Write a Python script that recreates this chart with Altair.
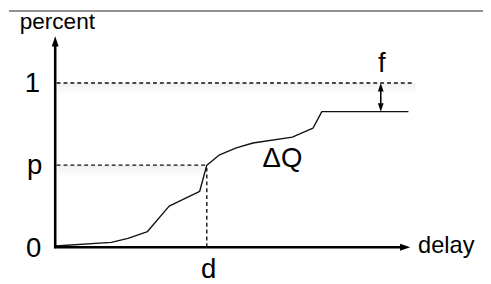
import altair as alt
import pandas as pd

# CDF-like curve (delay in arbitrary units 0..100, percent 0..1)
curve_delay = [0, 15.8, 20.5, 26.0, 32.1, 40.7, 42.7, 46.3, 51.0, 55.7, 66.8, 72.6, 75.1, 99.5]
curve_percent = [0.008, 0.03, 0.054, 0.096, 0.251, 0.341, 0.50, 0.563, 0.605, 0.635, 0.671, 0.725, 0.826, 0.826]

d_value = 42.7
p_value = 0.5
plateau = 0.826
f_delay = 91.7

label_text = ["percent", "1", "p", "0", "d", "f", "ΔQ"]
label_x = [0.6, -6.4, -5.8, -6.1, 43.2, 92.0, 64.0]
label_y = [1.33, 0.946, 0.449, -0.06, -0.186, 1.066, 0.49]
label_size = [23, 28, 28, 28, 28, 28, 28]

xs = alt.Scale(domain=[0, 100], range=[48, 409], zero=False, nice=False)
ys = alt.Scale(domain=[0, 1], range=[241, 74], zero=False, nice=False)


def X(f="x"):
    return alt.X(f, type="quantitative", scale=xs, axis=None)


def Y(f="y"):
    return alt.Y(f, type="quantitative", scale=ys, axis=None)


curve_df = pd.DataFrame({"x": curve_delay, "y": curve_percent})

# horizontal dashed guides
hdash_df = pd.DataFrame({"x": [0.4, 0.4], "x2": [101.0, d_value], "y": [1.0, p_value]})
vdash_df = pd.DataFrame({"x": [d_value], "y": [0.0], "y2": [p_value]})
shadow_df = pd.DataFrame({"x": [0.6, 0.6], "x2": [101.5, d_value],
                          "y": [1.0, p_value], "y2": [1.0 - 0.07, p_value - 0.07]})

axis_y_df = pd.DataFrame({"x": [0.0], "y": [-0.006], "y2": [1.24]})
axis_x_df = pd.DataFrame({"x": [-0.3], "x2": [97.5], "y": [0.0]})

up_df = pd.DataFrame({"x": [0.0], "y": [1.285]})
right_df = pd.DataFrame({"x": [100.0], "y": [0.0]})

f_rule_df = pd.DataFrame({"x": [f_delay], "y": [0.97], "y2": [plateau + 0.03]})
f_up_df = pd.DataFrame({"x": [f_delay], "y": [1.0]})
f_down_df = pd.DataFrame({"x": [f_delay], "y": [plateau]})

labels_df = pd.DataFrame({"x": label_x, "y": label_y, "text": label_text, "fs": label_size})
delay_df = pd.DataFrame({"x": [102.2], "y": [-0.036], "text": ["delay"], "fs": [24]})

UP = "M0,0L0.78,2.3L-0.78,2.3Z"
DOWN = "M0,0L0.78,-2.3L-0.78,-2.3Z"
RIGHT = "M0,0L-2.3,-0.8L-2.3,0.8Z"

grad = alt.Gradient(
    gradient="linear",
    stops=[alt.GradientStop(color="#f0f0f0", offset=0),
           alt.GradientStop(color="#ffffff", offset=1)],
    x1=0, x2=0, y1=0, y2=1,
)

top_line = alt.Chart(pd.DataFrame({"k": [0]})).mark_rule(
    color="#6e6e6e", strokeWidth=1.6
).encode(x=alt.value(1), x2=alt.value(483), y=alt.value(0.8))

shadows = alt.Chart(shadow_df).mark_rect(color=grad, opacity=1).encode(
    x=X(), x2="x2", y=Y(), y2="y2"
)

hdash = alt.Chart(hdash_df).mark_rule(
    color="#111", strokeWidth=1.4, strokeDash=[4, 3]
).encode(x=X(), x2="x2", y=Y())

vdash = alt.Chart(vdash_df).mark_rule(
    color="#111", strokeWidth=1.4, strokeDash=[4, 3]
).encode(x=X(), y=Y(), y2="y2")

curve = alt.Chart(curve_df).mark_line(
    color="#111", strokeWidth=1.4, strokeJoin="round"
).encode(x=X(), y=Y(), order=alt.Order("x:Q"))

axis_y = alt.Chart(axis_y_df).mark_rule(color="#000", strokeWidth=2.6).encode(
    x=X(), y=Y(), y2="y2"
)
axis_x = alt.Chart(axis_x_df).mark_rule(color="#000", strokeWidth=2.6).encode(
    x=X(), x2="x2", y=Y()
)

up_arrow = alt.Chart(up_df).mark_point(
    shape=UP, size=81, filled=True, color="#000", opacity=1, strokeWidth=0
).encode(x=X(), y=Y())
right_arrow = alt.Chart(right_df).mark_point(
    shape=RIGHT, size=81, filled=True, color="#000", opacity=1, strokeWidth=0
).encode(x=X(), y=Y())

f_rule = alt.Chart(f_rule_df).mark_rule(color="#000", strokeWidth=1.6).encode(
    x=X(), y=Y(), y2="y2"
)
f_up = alt.Chart(f_up_df).mark_point(
    shape=UP, size=56, filled=True, color="#000", opacity=1, strokeWidth=0
).encode(x=X(), y=Y())
f_down = alt.Chart(f_down_df).mark_point(
    shape=DOWN, size=56, filled=True, color="#000", opacity=1, strokeWidth=0
).encode(x=X(), y=Y())

labels = alt.Chart(labels_df).mark_text(
    font="Liberation Sans", align="center", baseline="alphabetic", color="#000"
).encode(x=X(), y=Y(), text="text:N", size=alt.Size("fs:Q", scale=None, legend=None))

delay_label = alt.Chart(delay_df).mark_text(
    font="Liberation Sans", align="left", baseline="alphabetic", color="#000"
).encode(x=X(), y=Y(), text="text:N", size=alt.Size("fs:Q", scale=None, legend=None))

chart = alt.layer(
    top_line, shadows, hdash, vdash, curve, axis_y, axis_x, up_arrow, right_arrow,
    f_rule, f_up, f_down, labels, delay_label
).properties(
    width=483, height=276,
    autosize=alt.AutoSizeParams(type="none"),
    padding=0,
).configure_view(stroke=None)

chart.save("out.html", embed_options={"renderer": "svg", "actions": False})
